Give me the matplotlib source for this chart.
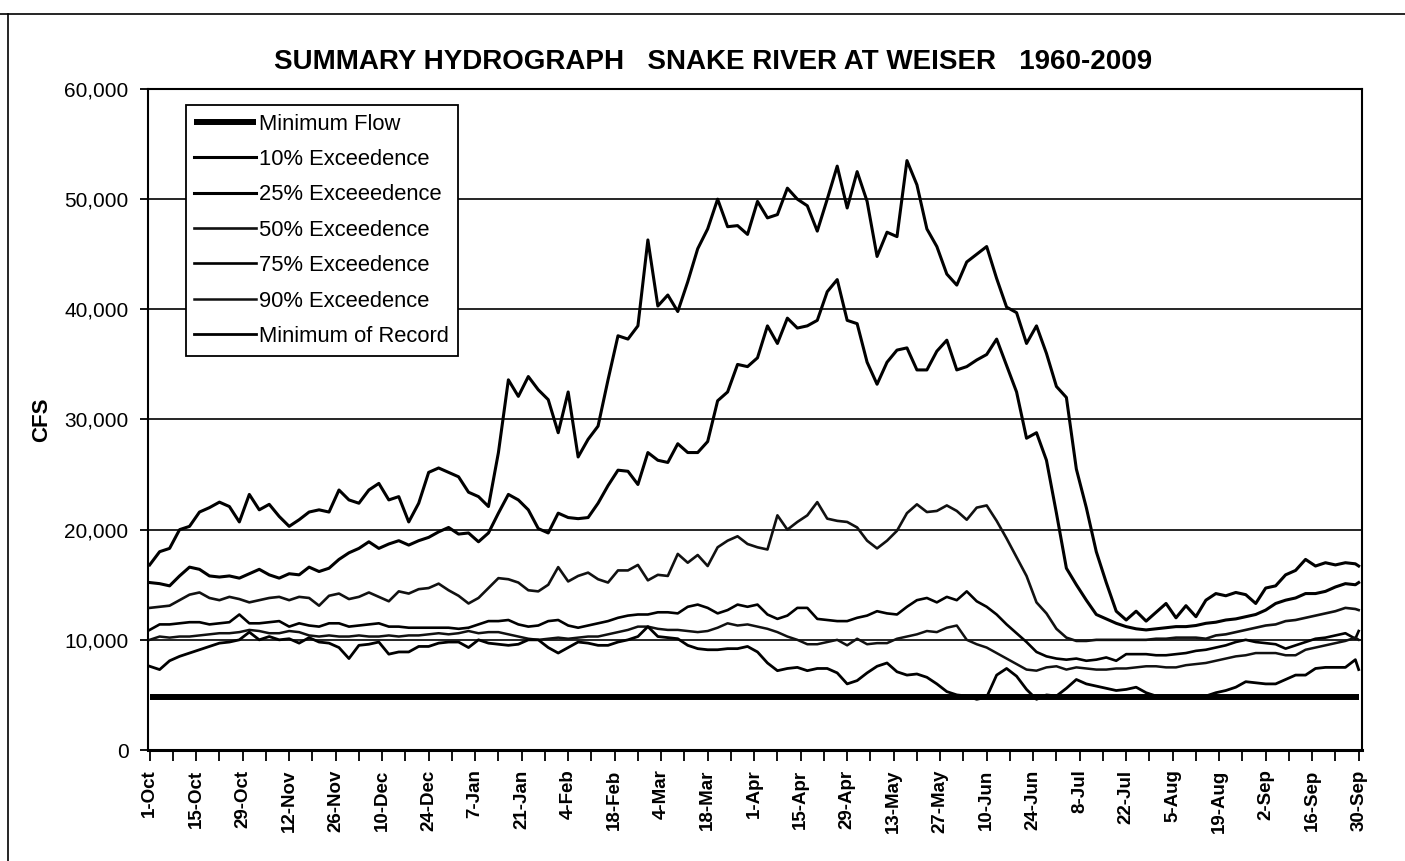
import matplotlib
matplotlib.use("Agg")
import matplotlib.pyplot as plt
from matplotlib.ticker import FuncFormatter, FixedLocator
from matplotlib.lines import Line2D

plt.rcParams['font.family'] = ['Liberation Sans', 'DejaVu Sans']

# ---------------- data ----------------
days = list(range(0, 364, 3)) + [364]          # day of water year (0 = 1-Oct)
tick_days = list(range(0, 365, 14))
tick_labels = ["1-Oct", "15-Oct", "29-Oct", "12-Nov", "26-Nov", "10-Dec", "24-Dec",
               "7-Jan", "21-Jan", "4-Feb", "18-Feb", "4-Mar", "18-Mar", "1-Apr",
               "15-Apr", "29-Apr", "13-May", "27-May", "10-Jun", "24-Jun", "8-Jul",
               "22-Jul", "5-Aug", "19-Aug", "2-Sep", "16-Sep", "30-Sep"]

minimum_flow = 4850

exc10 = [16800, 18000, 18300, 20000, 20300, 21600, 22000, 22500, 22100, 20700,
         23200, 21800, 22300, 21200, 20300, 20900, 21600, 21800, 21600, 23600,
         22700, 22400, 23600, 24200, 22700, 23000, 20700, 22400, 25200, 25600,
         25200, 24800, 23400, 23000, 22100, 27000, 33600, 32100, 33900, 32700,
         31800, 28800, 32500, 26600, 28200, 29400, 33600, 37600, 37300, 38500,
         46300, 40300, 41300, 39800, 42500, 45500, 47300, 50000, 47500, 47600,
         46800, 49800, 48300, 48600, 51000, 50000, 49400, 47100, 50000, 53000,
         49200, 52500, 49800, 44800, 47000, 46600, 53500, 51300, 47300, 45700,
         43200, 42200, 44300, 45000, 45700, 42800, 40200, 39700, 36900, 38500,
         36000, 33000, 32000, 25500, 22000, 18000, 15200, 12600, 11800, 12600,
         11700, 12500, 13300, 12000, 13100, 12100, 13600, 14200, 14000, 14300,
         14100, 13300, 14700, 14900, 15900, 16300, 17300, 16700, 17000, 16800,
         17000, 16900, 16700]

exc25 = [15200, 15100, 14900, 15800, 16600, 16400, 15800, 15700, 15800, 15600,
         16000, 16400, 15900, 15600, 16000, 15900, 16600, 16200, 16500, 17300,
         17900, 18300, 18900, 18300, 18700, 19000, 18600, 19000, 19300, 19800,
         20200, 19600, 19700, 18900, 19700, 21500, 23200, 22700, 21800, 20100,
         19700, 21500, 21100, 21000, 21100, 22400, 24000, 25400, 25300, 24100,
         27000, 26300, 26100, 27800, 27000, 27000, 28000, 31700, 32500, 35000,
         34800, 35600, 38500, 36900, 39200, 38300, 38500, 39000, 41600, 42700,
         39000, 38700, 35200, 33200, 35200, 36300, 36500, 34500, 34500, 36200,
         37200, 34500, 34800, 35400, 35900, 37300, 34900, 32500, 28300, 28800,
         26300, 21500, 16500, 15000, 13600, 12300, 11900, 11500, 11200, 11000,
         10900, 11000, 11100, 11200, 11200, 11300, 11500, 11600, 11800, 11900,
         12100, 12300, 12700, 13300, 13600, 13800, 14200, 14200, 14400, 14800,
         15100, 15000, 15200]

exc50 = [12900, 13000, 13100, 13600, 14100, 14300, 13800, 13600, 13900, 13700,
         13400, 13600, 13800, 13900, 13600, 13900, 13800, 13100, 14000, 14200,
         13700, 13900, 14300, 13900, 13500, 14400, 14200, 14600, 14700, 15100,
         14500, 14000, 13300, 13800, 14700, 15600, 15500, 15200, 14500, 14400,
         15000, 16600, 15300, 15800, 16100, 15500, 15200, 16300, 16300, 16800,
         15400, 15900, 15800, 17800, 17000, 17700, 16700, 18400, 19000, 19400,
         18700, 18400, 18200, 21300, 20000, 20700, 21300, 22500, 21000, 20800,
         20700, 20200, 19000, 18300, 19000, 19900, 21500, 22300, 21600, 21700,
         22200, 21700, 20900, 22000, 22200, 20800, 19200, 17500, 15800, 13400,
         12400, 11000, 10200, 9900, 9900, 10000, 10000, 10000, 10000, 10000,
         10000, 10100, 10100, 10200, 10200, 10200, 10100, 10400, 10500, 10700,
         10900, 11100, 11300, 11400, 11700, 11800, 12000, 12200, 12400, 12600,
         12900, 12800, 12700]

exc75 = [10900, 11400, 11400, 11500, 11600, 11600, 11400, 11500, 11600, 12300,
         11500, 11500, 11600, 11700, 11200, 11500, 11300, 11200, 11500, 11500,
         11200, 11300, 11400, 11500, 11200, 11200, 11100, 11100, 11100, 11100,
         11100, 11000, 11100, 11400, 11700, 11700, 11800, 11400, 11200, 11300,
         11700, 11800, 11300, 11100, 11300, 11500, 11700, 12000, 12200, 12300,
         12300, 12500, 12500, 12400, 13000, 13200, 12900, 12400, 12700, 13200,
         13000, 13200, 12300, 11900, 12200, 12900, 12900, 11900, 11800, 11700,
         11700, 12000, 12200, 12600, 12400, 12300, 13000, 13600, 13800, 13400,
         13900, 13600, 14400, 13500, 13000, 12300, 11400, 10600, 9800, 8900,
         8500, 8300, 8200, 8300, 8100, 8200, 8400, 8100, 8700, 8700,
         8700, 8600, 8600, 8700, 8800, 9000, 9100, 9300, 9500, 9800,
         10000, 9800, 9700, 9600, 9200, 9500, 9800, 10100, 10200, 10400,
         10600, 10100, 10800]

exc90 = [10000, 10300, 10200, 10300, 10300, 10400, 10500, 10600, 10600, 10700,
         10900, 10800, 10600, 10600, 10800, 10700, 10400, 10300, 10400, 10300,
         10300, 10400, 10300, 10300, 10400, 10300, 10400, 10400, 10500, 10600,
         10500, 10600, 10800, 10600, 10700, 10700, 10500, 10300, 10100, 10000,
         10100, 10200, 10100, 10200, 10300, 10300, 10500, 10700, 10900, 11200,
         11200, 11000, 10900, 10900, 10800, 10700, 10800, 11100, 11500, 11300,
         11400, 11200, 11000, 10700, 10300, 10000, 9600, 9600, 9800, 10000,
         9500, 10100, 9600, 9700, 9700, 10100, 10300, 10500, 10800, 10700,
         11100, 11300, 10000, 9600, 9300, 8800, 8300, 7800, 7300, 7200,
         7500, 7600, 7300, 7500, 7400, 7300, 7300, 7400, 7400, 7500,
         7600, 7600, 7500, 7500, 7700, 7800, 7900, 8100, 8300, 8500,
         8600, 8800, 8800, 8800, 8600, 8600, 9100, 9300, 9500, 9700,
         9900, 10200, 10000]

min_record = [7600, 7300, 8100, 8500, 8800, 9100, 9400, 9700, 9800, 10000,
              10700, 10000, 10300, 10000, 10100, 9700, 10200, 9800, 9700, 9300,
              8300, 9500, 9600, 9800, 8700, 8900, 8900, 9400, 9400, 9700,
              9800, 9800, 9300, 10000, 9700, 9600, 9500, 9600, 10000, 10000,
              9300, 8800, 9300, 9800, 9700, 9500, 9500, 9800, 10000, 10300,
              11200, 10300, 10200, 10100, 9500, 9200, 9100, 9100, 9200, 9200,
              9400, 8900, 7900, 7200, 7400, 7500, 7200, 7400, 7400, 7000,
              6000, 6300, 7000, 7600, 7900, 7100, 6800, 6900, 6600, 6000,
              5300, 5000, 4900, 4600, 4800, 6800, 7400, 6700, 5500, 4600,
              5000, 4900, 5600, 6400, 6000, 5800, 5600, 5400, 5500, 5700,
              5200, 4900, 4900, 4900, 4900, 4900, 4900, 5200, 5400, 5700,
              6200, 6100, 6000, 6000, 6400, 6800, 6800, 7400, 7500, 7500,
              7500, 8200, 7300]

# ---------------- figure ----------------
W, H = 1405, 861
fig = plt.figure(figsize=(W / 100, H / 100), dpi=100)
ax = fig.add_axes([148 / W, 1 - 750 / H, 1214 / W, 661 / H])

ax.plot([days[0], days[-1]], [minimum_flow, minimum_flow], color='black', lw=4.3,
        solid_capstyle='butt', label='Minimum Flow', zorder=5)
ax.plot(days, exc10, color='black', lw=2.2, label='10% Exceedence', zorder=4)
ax.plot(days, exc25, color='black', lw=2.2, label='25% Exceeedence', zorder=4)
ax.plot(days, exc50, color='#111111', lw=1.9, label='50% Exceedence', zorder=4)
ax.plot(days, exc75, color='black', lw=1.9, label='75% Exceedence', zorder=4)
ax.plot(days, exc90, color='#111111', lw=1.8, label='90% Exceedence', zorder=4)
ax.plot(days, min_record, color='black', lw=2.0, label='Minimum of Record', zorder=4)

ax.set_xlim(-0.5, 365)
ax.set_ylim(0, 60000)
ax.set_yticks(range(0, 60001, 10000))
ax.yaxis.set_major_formatter(FuncFormatter(lambda v, p: f"{int(v):,}"))
ax.yaxis.grid(True, color='black', lw=1.2)
ax.set_axisbelow(True)

ax.xaxis.set_major_locator(FixedLocator(tick_days))
ax.xaxis.set_minor_locator(FixedLocator([d for d in range(7, 365, 14)]))
ax.set_xticklabels(tick_labels, rotation=90, fontsize=13.5, fontweight='bold')
ax.tick_params(axis='x', which='both', direction='out', length=8, width=1.3, pad=6)
ax.tick_params(axis='y', direction='out', length=6, width=1.3, pad=8, labelsize=15)

for s in ax.spines.values():
    s.set_color('black')
    s.set_linewidth(1.5)
ax.spines['bottom'].set_linewidth(2.2)

leg = ax.legend(loc='upper left', bbox_to_anchor=(0.031, 0.976), fontsize=15.8,
                frameon=True, fancybox=False, edgecolor='black', framealpha=1,
                handlelength=2.8, handletextpad=0.15, labelspacing=0.655,
                borderpad=0.4, borderaxespad=0)
leg.get_frame().set_linewidth(1.3)

fig.text(713 / W, 1 - 62 / H,
         "SUMMARY HYDROGRAPH   SNAKE RIVER AT WEISER   1960-2009",
         ha='center', va='center', fontsize=20, fontweight='bold')
fig.text(42 / W, 1 - 420 / H, "CFS", rotation=90, ha='center', va='center',
         fontsize=16, fontweight='bold')

# outer chart border (top and left edges visible in the scan)
fig.add_artist(Line2D([0, 1], [1 - 14 / H, 1 - 14 / H], color='black', lw=1.2,
                      transform=fig.transFigure))
fig.add_artist(Line2D([8 / W, 8 / W], [0, 1 - 14 / H], color='black', lw=1.2,
                      transform=fig.transFigure))

fig.savefig("out.png", dpi=100)
